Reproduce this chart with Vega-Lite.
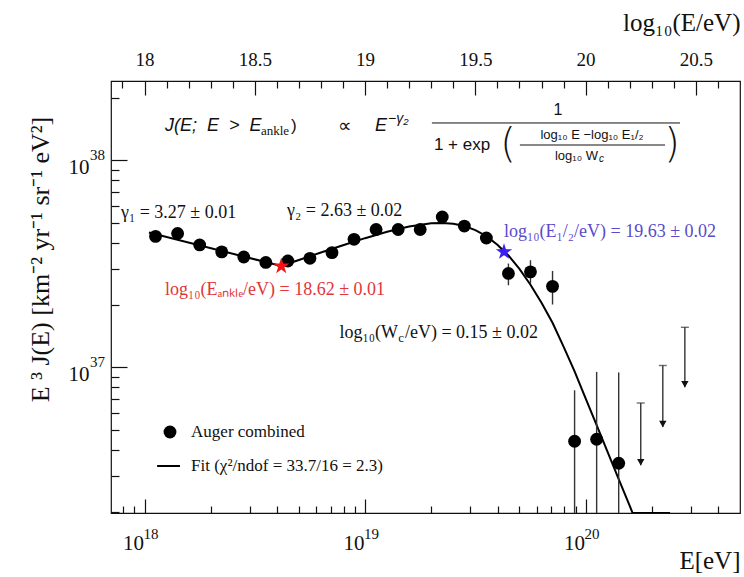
{
  "$schema": "https://vega.github.io/schema/vega-lite/v6.json",
  "width": 629,
  "height": 432,
  "autosize": "none",
  "padding": {"left": 111, "top": 81, "right": 4, "bottom": 64},
  "background": "white",
  "config": {
    "view": {"stroke": "#111", "strokeWidth": 1.2},
    "font": "Liberation Serif"
  },
  "datasets": {
    "fit": [
      {"lgE": 18.02, "J": 4.477e37}, {"lgE": 18.62, "J": 3.083e37}, {"lgE": 18.7, "J": 3.298e37},
      {"lgE": 18.8, "J": 3.584e37}, {"lgE": 18.9, "J": 3.888e37}, {"lgE": 19.0, "J": 4.204e37},
      {"lgE": 19.1, "J": 4.515e37}, {"lgE": 19.2, "J": 4.786e37}, {"lgE": 19.3, "J": 4.96e37},
      {"lgE": 19.35, "J": 4.979e37}, {"lgE": 19.4, "J": 4.935e37}, {"lgE": 19.45, "J": 4.811e37},
      {"lgE": 19.5, "J": 4.6e37}, {"lgE": 19.55, "J": 4.297e37}, {"lgE": 19.6, "J": 3.911e37},
      {"lgE": 19.65, "J": 3.465e37}, {"lgE": 19.7, "J": 2.985e37}, {"lgE": 19.75, "J": 2.506e37},
      {"lgE": 19.8, "J": 2.05e37}, {"lgE": 19.85, "J": 1.64e37}, {"lgE": 19.9, "J": 1.259e37},
      {"lgE": 19.95, "J": 9.55e36}, {"lgE": 20.0, "J": 7.08e36}, {"lgE": 20.05, "J": 5.25e36},
      {"lgE": 20.1, "J": 3.89e36}, {"lgE": 20.15, "J": 2.88e36}, {"lgE": 20.2, "J": 2.14e36},
      {"lgE": 20.213, "J": 1.977e36}, {"lgE": 20.383, "J": 1.977e36}
    ],
    "pts": [
      {"lgE": 18.05, "J": 4.29e37}, {"lgE": 18.15, "J": 4.43e37}, {"lgE": 18.25, "J": 3.9e37},
      {"lgE": 18.35, "J": 3.61e37}, {"lgE": 18.45, "J": 3.41e37}, {"lgE": 18.55, "J": 3.21e37},
      {"lgE": 18.65, "J": 3.26e37}, {"lgE": 18.75, "J": 3.36e37}, {"lgE": 18.85, "J": 3.58e37},
      {"lgE": 18.95, "J": 4.15e37}, {"lgE": 19.05, "J": 4.63e37}, {"lgE": 19.15, "J": 4.63e37},
      {"lgE": 19.25, "J": 4.63e37}, {"lgE": 19.35, "J": 5.32e37}, {"lgE": 19.45, "J": 4.81e37},
      {"lgE": 19.55, "J": 4.21e37}, {"lgE": 19.65, "J": 2.84e37}, {"lgE": 19.75, "J": 2.89e37},
      {"lgE": 19.85, "J": 2.46e37}, {"lgE": 19.95, "J": 4.39e36}, {"lgE": 20.05, "J": 4.49e36},
      {"lgE": 20.15, "J": 3.44e36}
    ],
    "err": [
      {"lgE": 19.65, "lo": 2.49e37, "hi": 3.17e37}, {"lgE": 19.75, "lo": 2.54e37, "hi": 3.29e37},
      {"lgE": 19.85, "lo": 2.01e37, "hi": 2.92e37}, {"lgE": 19.95, "lo": 1.977e36, "hi": 7.74e36},
      {"lgE": 20.05, "lo": 1.977e36, "hi": 9.5e36}, {"lgE": 20.15, "lo": 1.977e36, "hi": 9.44e36}
    ],
    "ul": [
      {"lgE": 20.25, "top": 6.72e36, "tip": 3.36e36},
      {"lgE": 20.35, "top": 1.02e37, "tip": 5.15e36},
      {"lgE": 20.45, "top": 1.56e37, "tip": 8.0e36}
    ],
    "starRed": [{"lgE": 18.62, "J": 3.08e37}],
    "starBlue": [{"lgE": 19.63, "J": 3.61e37}],
    "xexp": [
      {"lgE": 18.0, "J": 1.977e36, "t": "18"},
      {"lgE": 19.0, "J": 1.977e36, "t": "19"},
      {"lgE": 20.0, "J": 1.977e36, "t": "20"}
    ],
    "yexp": [
      {"lgE": 17.848, "J": 1e37, "t": "37"},
      {"lgE": 17.848, "J": 1e38, "t": "38"}
    ],
    "notes": [
      {"lgE": 17.893, "J": 5.563e37, "t": "γ₁ = 3.27 ± 0.01"},
      {"lgE": 18.646, "J": 5.689e37, "t": "γ₂ = 2.63 ± 0.02"},
      {"lgE": 19.181, "J": 1.464e37, "t": "/eV) = 0.15 ± 0.02"}
    ],
    "notesRight": [{"lgE": 19.149, "J": 1.464e37, "t": "log₁₀(W"}],
    "notesSub": [{"lgE": 19.151, "J": 1.385e37, "t": "c"}],
    "noteRed": [{"lgE": 18.093, "J": 2.362e37, "t": "log₁₀(Eₐₙₖₗₑ/eV) = 18.62 ± 0.01"}],
    "noteBlue": [{"lgE": 19.63, "J": 4.504e37, "t": "log₁₀(E₁/₂/eV) = 19.63 ± 0.02"}],
    "legDot": [{"lgE": 18.1155, "J": 4.866e36}],
    "legLine": [{"lgE": 18.057, "lgE2": 18.161, "J": 3.334e36}],
    "legText": [
      {"lgE": 18.211, "J": 4.866e36, "t": "Auger combined"},
      {"lgE": 18.211, "J": 3.334e36, "t": "Fit (χ²/ndof = 33.7/16 = 2.3)"}
    ],
    "fItalic": [
      {"lgE": 18.093, "J": 1.464e38, "t": "J(E;\u00a0 E\u00a0 >\u00a0 E"},
      {"lgE": 19.045, "J": 1.464e38, "t": "E"}
    ],
    "fAnkle": [{"lgE": 18.528, "J": 1.385e38, "t": "ankle"}],
    "fRegular": [
      {"lgE": 18.664, "J": 1.464e38, "t": ")"},
      {"lgE": 19.312, "J": 1.185e38, "t": "1 + exp"}
    ],
    "fProp": [{"lgE": 18.877, "J": 1.464e38, "t": "∝"}],
    "fOne": [{"lgE": 19.875, "J": 1.75e38, "t": "1"}],
    "fGamma": [{"lgE": 19.104, "J": 1.583e38, "t": "−γ₂"}],
    "fSmall": [{"lgE": 20.029, "J": 1.325e38, "t": "log₁₀ E −log₁₀ E₁/₂"}],
    "fSmallRight": [{"lgE": 20.056, "J": 1.049e38, "t": "log₁₀ W"}],
    "fSmallSub": [{"lgE": 20.061, "J": 1.0145e38, "t": "c"}],
    "fParen": [
      {"lgE": 19.648, "J": 1.185e38, "t": "("},
      {"lgE": 20.392, "J": 1.185e38, "t": ")"}
    ],
    "fLines": [
      {"lgE": 19.303, "lgE2": 20.428, "J": 1.514e38},
      {"lgE": 19.702, "lgE2": 20.36, "J": 1.185e38}
    ]
  },
  "resolve": {"axis": {"x": "independent", "y": "independent"}},
  "layer": [
    {
      "data": {"name": "fit"},
      "mark": {"type": "line", "color": "#000", "strokeWidth": 2, "clip": true},
      "encoding": {
        "x": {"field": "lgE", "type": "quantitative",
          "scale": {"domain": [17.848, 20.7], "nice": false, "zero": false},
          "axis": {
            "orient": "bottom",
            "values": [17.9031, 17.9542, 18, 18.301, 18.4771, 18.6021, 18.699, 18.7782, 18.8451, 18.9031, 18.9542, 19, 19.301, 19.4771, 19.6021, 19.699, 19.7782, 19.8451, 19.9031, 19.9542, 20, 20.301, 20.4771, 20.6021],
            "labelExpr": "abs(datum.value - round(datum.value)) < 0.001 ? '10' : ''",
            "tickSize": {"condition": {"test": "abs(datum.value - round(datum.value)) < 0.001", "value": -14}, "value": -7},
            "tickColor": "#111", "tickWidth": 1.2, "domain": false, "grid": false,
            "labelPadding": 33, "labelFontSize": 21, "labelAlign": "right", "labelOffset": -1, "labelBaseline": "top",
            "labelFont": "Liberation Serif", "labelColor": "#111", "labelOverlap": false, "labelFlush": false,
            "title": "E[eV]", "titleFont": "Liberation Serif", "titleFontSize": 25, "titleFontWeight": "normal",
            "titleColor": "#111", "titleAlign": "right", "titleAnchor": "end", "titleX": 629, "titleY": 47, "titleBaseline": "middle"
          }
        },
        "y": {"field": "J", "type": "quantitative",
          "scale": {"type": "log", "domain": [1.977e36, 2.415e38], "nice": false},
          "axis": {
            "orient": "left",
            "values": [2e36, 3e36, 4e36, 5e36, 6e36, 7e36, 8e36, 9e36, 1e37, 2e37, 3e37, 4e37, 5e37, 6e37, 7e37, 8e37, 9e37, 1e38, 2e38],
            "labelExpr": "abs(log(datum.value)/LN10 - round(log(datum.value)/LN10)) < 0.001 ? '10' : ''",
            "tickSize": {"condition": {"test": "abs(log(datum.value)/LN10 - round(log(datum.value)/LN10)) < 0.001", "value": -16}, "value": -8},
            "tickColor": "#111", "tickWidth": 1.2, "domain": false, "grid": false,
            "labelPadding": 38, "labelFontSize": 21, "labelOffset": 7, "labelBaseline": "middle",
            "labelFont": "Liberation Serif", "labelColor": "#111", "labelOverlap": false, "labelFlush": false,
            "title": "E ³ J(E) [km⁻² yr⁻¹ sr⁻¹ eV²]", "titleFont": "Liberation Serif", "titleFontSize": 26, "titleFontWeight": "normal",
            "titleColor": "#111", "titleX": -71, "titleY": 178, "titleAlign": "center", "titleBaseline": "middle", "titleAngle": -90
          }
        }
      }
    },
    {
      "data": {"name": "err"},
      "mark": {"type": "rule", "color": "#333", "strokeWidth": 1.4, "clip": true},
      "encoding": {
        "x": {"field": "lgE", "type": "quantitative", "scale": {"domain": [17.848, 20.7], "nice": false, "zero": false}, "axis": null},
        "y": {"field": "lo", "type": "quantitative", "scale": {"type": "log", "domain": [1.977e36, 2.415e38], "nice": false}, "axis": null},
        "y2": {"field": "hi"}
      }
    },
    {
      "data": {"name": "pts"},
      "mark": {"type": "point", "shape": "circle", "filled": true, "color": "#000", "size": 165, "opacity": 1},
      "encoding": {
        "x": {"field": "lgE", "type": "quantitative",
          "scale": {"domain": [17.848, 20.7], "nice": false, "zero": false},
          "axis": {
            "orient": "top",
            "values": [17.9, 18, 18.1, 18.2, 18.3, 18.4, 18.5, 18.6, 18.7, 18.8, 18.9, 19, 19.1, 19.2, 19.3, 19.4, 19.5, 19.6, 19.7, 19.8, 19.9, 20, 20.1, 20.2, 20.3, 20.4, 20.5, 20.6],
            "labelExpr": "abs(datum.value*2 - round(datum.value*2)) < 0.001 ? format(datum.value, '.1~f') : ''",
            "tickSize": {"condition": {"test": "abs(datum.value*2 - round(datum.value*2)) < 0.001", "value": -14}, "value": -7},
            "tickColor": "#111", "tickWidth": 1.2, "domain": false, "grid": false,
            "labelPadding": 26, "labelFontSize": 19, "labelFont": "Liberation Serif", "labelColor": "#111",
            "labelOverlap": false, "labelFlush": false,
            "title": "log₁₀(E/eV)", "titleFont": "Liberation Serif", "titleFontSize": 25, "titleFontWeight": "normal",
            "titleColor": "#111", "titleAlign": "right", "titleAnchor": "end", "titleX": 629, "titleY": -59, "titleBaseline": "middle"
          }
        },
        "y": {"field": "J", "type": "quantitative", "scale": {"type": "log", "domain": [1.977e36, 2.415e38], "nice": false}, "axis": null}
      }
    },
    {
      "data": {"name": "ul"},
      "mark": {"type": "rule", "color": "#333", "strokeWidth": 1.4},
      "encoding": {
        "x": {"field": "lgE", "type": "quantitative", "scale": {"domain": [17.848, 20.7], "nice": false, "zero": false}, "axis": null},
        "y": {"field": "top", "type": "quantitative", "scale": {"type": "log", "domain": [1.977e36, 2.415e38], "nice": false}, "axis": null},
        "y2": {"field": "tip"}
      }
    },
    {
      "data": {"name": "ul"},
      "mark": {"type": "tick", "orient": "horizontal", "color": "#333", "size": 8, "thickness": 1.4},
      "encoding": {
        "x": {"field": "lgE", "type": "quantitative", "scale": {"domain": [17.848, 20.7], "nice": false, "zero": false}, "axis": null},
        "y": {"field": "top", "type": "quantitative", "scale": {"type": "log", "domain": [1.977e36, 2.415e38], "nice": false}, "axis": null}
      }
    },
    {
      "data": {"name": "ul"},
      "mark": {"type": "point", "shape": "triangle-down", "filled": true, "color": "#111", "size": 55, "opacity": 1, "yOffset": -3},
      "encoding": {
        "x": {"field": "lgE", "type": "quantitative", "scale": {"domain": [17.848, 20.7], "nice": false, "zero": false}, "axis": null},
        "y": {"field": "tip", "type": "quantitative", "scale": {"type": "log", "domain": [1.977e36, 2.415e38], "nice": false}, "axis": null}
      }
    },
    {
      "data": {"name": "starRed"},
      "mark": {"type": "point", "shape": "M0,-1L0.225,-0.309L0.951,-0.309L0.363,0.118L0.588,0.809L0,0.382L-0.588,0.809L-0.363,0.118L-0.951,-0.309L-0.225,-0.309Z", "filled": true, "size": 300, "opacity": 1, "color": "#f01414"},
      "encoding": {
        "x": {"field": "lgE", "type": "quantitative", "scale": {"domain": [17.848, 20.7], "nice": false, "zero": false}, "axis": null},
        "y": {"field": "J", "type": "quantitative", "scale": {"type": "log", "domain": [1.977e36, 2.415e38], "nice": false}, "axis": null}
      }
    },
    {
      "data": {"name": "starBlue"},
      "mark": {"type": "point", "shape": "M0,-1L0.225,-0.309L0.951,-0.309L0.363,0.118L0.588,0.809L0,0.382L-0.588,0.809L-0.363,0.118L-0.951,-0.309L-0.225,-0.309Z", "filled": true, "size": 300, "opacity": 1, "color": "#3c1ef0"},
      "encoding": {
        "x": {"field": "lgE", "type": "quantitative", "scale": {"domain": [17.848, 20.7], "nice": false, "zero": false}, "axis": null},
        "y": {"field": "J", "type": "quantitative", "scale": {"type": "log", "domain": [1.977e36, 2.415e38], "nice": false}, "axis": null}
      }
    },
    {
      "data": {"name": "xexp"},
      "mark": {"type": "text", "align": "left", "baseline": "middle", "dx": -1, "dy": 21, "fontSize": 15, "font": "Liberation Serif", "color": "#111"},
      "encoding": {
        "x": {"field": "lgE", "type": "quantitative", "scale": {"domain": [17.848, 20.7], "nice": false, "zero": false}, "axis": null},
        "y": {"field": "J", "type": "quantitative", "scale": {"type": "log", "domain": [1.977e36, 2.415e38], "nice": false}, "axis": null},
        "text": {"field": "t"}
      }
    },
    {
      "data": {"name": "yexp"},
      "mark": {"type": "text", "align": "left", "baseline": "middle", "dx": -21, "dy": -5, "fontSize": 15, "font": "Liberation Serif", "color": "#111"},
      "encoding": {
        "x": {"field": "lgE", "type": "quantitative", "scale": {"domain": [17.848, 20.7], "nice": false, "zero": false}, "axis": null},
        "y": {"field": "J", "type": "quantitative", "scale": {"type": "log", "domain": [1.977e36, 2.415e38], "nice": false}, "axis": null},
        "text": {"field": "t"}
      }
    },
    {
      "data": {"name": "notes"},
      "mark": {"type": "text", "align": "left", "baseline": "middle", "fontSize": 18, "font": "Liberation Serif", "color": "#111"},
      "encoding": {
        "x": {"field": "lgE", "type": "quantitative", "scale": {"domain": [17.848, 20.7], "nice": false, "zero": false}, "axis": null},
        "y": {"field": "J", "type": "quantitative", "scale": {"type": "log", "domain": [1.977e36, 2.415e38], "nice": false}, "axis": null},
        "text": {"field": "t"}
      }
    },
    {
      "data": {"name": "notesRight"},
      "mark": {"type": "text", "align": "right", "baseline": "middle", "fontSize": 18, "font": "Liberation Serif", "color": "#111"},
      "encoding": {
        "x": {"field": "lgE", "type": "quantitative", "scale": {"domain": [17.848, 20.7], "nice": false, "zero": false}, "axis": null},
        "y": {"field": "J", "type": "quantitative", "scale": {"type": "log", "domain": [1.977e36, 2.415e38], "nice": false}, "axis": null},
        "text": {"field": "t"}
      }
    },
    {
      "data": {"name": "notesSub"},
      "mark": {"type": "text", "align": "left", "baseline": "middle", "fontSize": 13, "font": "Liberation Serif", "color": "#111"},
      "encoding": {
        "x": {"field": "lgE", "type": "quantitative", "scale": {"domain": [17.848, 20.7], "nice": false, "zero": false}, "axis": null},
        "y": {"field": "J", "type": "quantitative", "scale": {"type": "log", "domain": [1.977e36, 2.415e38], "nice": false}, "axis": null},
        "text": {"field": "t"}
      }
    },
    {
      "data": {"name": "noteRed"},
      "mark": {"type": "text", "align": "left", "baseline": "middle", "fontSize": 18, "font": "Liberation Serif", "color": "#e0363a"},
      "encoding": {
        "x": {"field": "lgE", "type": "quantitative", "scale": {"domain": [17.848, 20.7], "nice": false, "zero": false}, "axis": null},
        "y": {"field": "J", "type": "quantitative", "scale": {"type": "log", "domain": [1.977e36, 2.415e38], "nice": false}, "axis": null},
        "text": {"field": "t"}
      }
    },
    {
      "data": {"name": "noteBlue"},
      "mark": {"type": "text", "align": "left", "baseline": "middle", "fontSize": 18, "font": "Liberation Serif", "color": "#5a4acb"},
      "encoding": {
        "x": {"field": "lgE", "type": "quantitative", "scale": {"domain": [17.848, 20.7], "nice": false, "zero": false}, "axis": null},
        "y": {"field": "J", "type": "quantitative", "scale": {"type": "log", "domain": [1.977e36, 2.415e38], "nice": false}, "axis": null},
        "text": {"field": "t"}
      }
    },
    {
      "data": {"name": "legDot"},
      "mark": {"type": "point", "shape": "circle", "filled": true, "color": "#000", "size": 165, "opacity": 1},
      "encoding": {
        "x": {"field": "lgE", "type": "quantitative", "scale": {"domain": [17.848, 20.7], "nice": false, "zero": false}, "axis": null},
        "y": {"field": "J", "type": "quantitative", "scale": {"type": "log", "domain": [1.977e36, 2.415e38], "nice": false}, "axis": null}
      }
    },
    {
      "data": {"name": "legLine"},
      "mark": {"type": "rule", "color": "#000", "strokeWidth": 2},
      "encoding": {
        "x": {"field": "lgE", "type": "quantitative", "scale": {"domain": [17.848, 20.7], "nice": false, "zero": false}, "axis": null},
        "x2": {"field": "lgE2"},
        "y": {"field": "J", "type": "quantitative", "scale": {"type": "log", "domain": [1.977e36, 2.415e38], "nice": false}, "axis": null}
      }
    },
    {
      "data": {"name": "legText"},
      "mark": {"type": "text", "align": "left", "baseline": "middle", "fontSize": 17, "font": "Liberation Serif", "color": "#111"},
      "encoding": {
        "x": {"field": "lgE", "type": "quantitative", "scale": {"domain": [17.848, 20.7], "nice": false, "zero": false}, "axis": null},
        "y": {"field": "J", "type": "quantitative", "scale": {"type": "log", "domain": [1.977e36, 2.415e38], "nice": false}, "axis": null},
        "text": {"field": "t"}
      }
    },
    {
      "data": {"name": "fItalic"},
      "mark": {"type": "text", "align": "left", "baseline": "middle", "fontSize": 18, "font": "Liberation Sans", "fontStyle": "italic", "color": "#111"},
      "encoding": {
        "x": {"field": "lgE", "type": "quantitative", "scale": {"domain": [17.848, 20.7], "nice": false, "zero": false}, "axis": null},
        "y": {"field": "J", "type": "quantitative", "scale": {"type": "log", "domain": [1.977e36, 2.415e38], "nice": false}, "axis": null},
        "text": {"field": "t"}
      }
    },
    {
      "data": {"name": "fAnkle"},
      "mark": {"type": "text", "align": "left", "baseline": "middle", "fontSize": 13, "font": "Liberation Serif", "color": "#111"},
      "encoding": {
        "x": {"field": "lgE", "type": "quantitative", "scale": {"domain": [17.848, 20.7], "nice": false, "zero": false}, "axis": null},
        "y": {"field": "J", "type": "quantitative", "scale": {"type": "log", "domain": [1.977e36, 2.415e38], "nice": false}, "axis": null},
        "text": {"field": "t"}
      }
    },
    {
      "data": {"name": "fRegular"},
      "mark": {"type": "text", "align": "left", "baseline": "middle", "fontSize": 17, "font": "Liberation Sans", "color": "#111"},
      "encoding": {
        "x": {"field": "lgE", "type": "quantitative", "scale": {"domain": [17.848, 20.7], "nice": false, "zero": false}, "axis": null},
        "y": {"field": "J", "type": "quantitative", "scale": {"type": "log", "domain": [1.977e36, 2.415e38], "nice": false}, "axis": null},
        "text": {"field": "t"}
      }
    },
    {
      "data": {"name": "fProp"},
      "mark": {"type": "text", "align": "left", "baseline": "middle", "fontSize": 19, "font": "DejaVu Sans", "color": "#111"},
      "encoding": {
        "x": {"field": "lgE", "type": "quantitative", "scale": {"domain": [17.848, 20.7], "nice": false, "zero": false}, "axis": null},
        "y": {"field": "J", "type": "quantitative", "scale": {"type": "log", "domain": [1.977e36, 2.415e38], "nice": false}, "axis": null},
        "text": {"field": "t"}
      }
    },
    {
      "data": {"name": "fOne"},
      "mark": {"type": "text", "align": "center", "baseline": "middle", "fontSize": 16, "font": "Liberation Sans", "color": "#111"},
      "encoding": {
        "x": {"field": "lgE", "type": "quantitative", "scale": {"domain": [17.848, 20.7], "nice": false, "zero": false}, "axis": null},
        "y": {"field": "J", "type": "quantitative", "scale": {"type": "log", "domain": [1.977e36, 2.415e38], "nice": false}, "axis": null},
        "text": {"field": "t"}
      }
    },
    {
      "data": {"name": "fGamma"},
      "mark": {"type": "text", "align": "left", "baseline": "middle", "fontSize": 14, "font": "Liberation Sans", "fontStyle": "italic", "color": "#111"},
      "encoding": {
        "x": {"field": "lgE", "type": "quantitative", "scale": {"domain": [17.848, 20.7], "nice": false, "zero": false}, "axis": null},
        "y": {"field": "J", "type": "quantitative", "scale": {"type": "log", "domain": [1.977e36, 2.415e38], "nice": false}, "axis": null},
        "text": {"field": "t"}
      }
    },
    {
      "data": {"name": "fSmall"},
      "mark": {"type": "text", "align": "center", "baseline": "middle", "fontSize": 13, "font": "Liberation Sans", "color": "#111"},
      "encoding": {
        "x": {"field": "lgE", "type": "quantitative", "scale": {"domain": [17.848, 20.7], "nice": false, "zero": false}, "axis": null},
        "y": {"field": "J", "type": "quantitative", "scale": {"type": "log", "domain": [1.977e36, 2.415e38], "nice": false}, "axis": null},
        "text": {"field": "t"}
      }
    },
    {
      "data": {"name": "fSmallRight"},
      "mark": {"type": "text", "align": "right", "baseline": "middle", "fontSize": 13, "font": "Liberation Sans", "color": "#111"},
      "encoding": {
        "x": {"field": "lgE", "type": "quantitative", "scale": {"domain": [17.848, 20.7], "nice": false, "zero": false}, "axis": null},
        "y": {"field": "J", "type": "quantitative", "scale": {"type": "log", "domain": [1.977e36, 2.415e38], "nice": false}, "axis": null},
        "text": {"field": "t"}
      }
    },
    {
      "data": {"name": "fSmallSub"},
      "mark": {"type": "text", "align": "left", "baseline": "middle", "fontSize": 10, "font": "Liberation Sans", "fontStyle": "italic", "color": "#111"},
      "encoding": {
        "x": {"field": "lgE", "type": "quantitative", "scale": {"domain": [17.848, 20.7], "nice": false, "zero": false}, "axis": null},
        "y": {"field": "J", "type": "quantitative", "scale": {"type": "log", "domain": [1.977e36, 2.415e38], "nice": false}, "axis": null},
        "text": {"field": "t"}
      }
    },
    {
      "data": {"name": "fParen"},
      "mark": {"type": "text", "align": "center", "baseline": "middle", "fontSize": 40, "font": "DejaVu Sans", "fontWeight": 200, "color": "#111"},
      "encoding": {
        "x": {"field": "lgE", "type": "quantitative", "scale": {"domain": [17.848, 20.7], "nice": false, "zero": false}, "axis": null},
        "y": {"field": "J", "type": "quantitative", "scale": {"type": "log", "domain": [1.977e36, 2.415e38], "nice": false}, "axis": null},
        "text": {"field": "t"}
      }
    },
    {
      "data": {"name": "fLines"},
      "mark": {"type": "rule", "color": "#111", "strokeWidth": 1},
      "encoding": {
        "x": {"field": "lgE", "type": "quantitative", "scale": {"domain": [17.848, 20.7], "nice": false, "zero": false}, "axis": null},
        "x2": {"field": "lgE2"},
        "y": {"field": "J", "type": "quantitative", "scale": {"type": "log", "domain": [1.977e36, 2.415e38], "nice": false}, "axis": null}
      }
    }
  ]
}
